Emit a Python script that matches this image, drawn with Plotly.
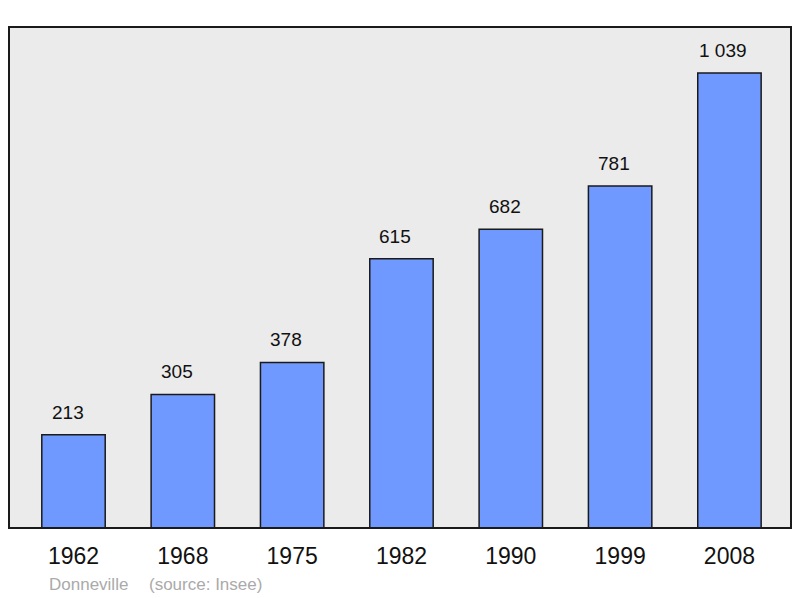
import plotly.graph_objects as go

years = ["1962", "1968", "1975", "1982", "1990", "1999", "2008"]
population = [213, 305, 378, 615, 682, 781, 1039]
value_labels = ["213", "305", "378", "615", "682", "781", "1 039"]
place = "Donneville"
source = "(source: Insee)"

# page has an 8px body margin; compensate
W, H = 792, 590
L, R, T, B = 1, 9, 19, 70
pw = W - L - R

xpos = list(range(len(years)))

fig = go.Figure()
fig.add_trace(go.Bar(
    x=xpos, y=population, width=0.58,
    marker=dict(color="#7099ff", line=dict(color="#1a1a1a", width=1.5)),
    hoverinfo="skip",
))

for xi, v, t in zip(xpos, population, value_labels):
    fig.add_annotation(x=xi, y=v, text=t, showarrow=False, yanchor="bottom",
                       yshift=10, xshift=-6, font=dict(size=19, color="#111111"))

fig.add_annotation(xref="paper", yref="paper", x=(47 - 9) / pw, y=0, yshift=-56,
                   xanchor="left", yanchor="middle", text=place, showarrow=False,
                   font=dict(size=17, color="#aaaaaa"))
fig.add_annotation(xref="paper", yref="paper", x=(147 - 9) / pw, y=0, yshift=-56,
                   xanchor="left", yanchor="middle", text=source, showarrow=False,
                   font=dict(size=17, color="#aaaaaa"))

fig.add_shape(type="rect", xref="paper", yref="paper", x0=0, x1=1, y0=0, y1=1,
              line=dict(color="#1a1a1a", width=2), layer="above")

fig.update_layout(
    width=W, height=H,
    margin=dict(l=L, r=R, t=T, b=B, pad=0),
    paper_bgcolor="white", plot_bgcolor="#ebebeb",
    font=dict(family="Liberation Sans, Arial, sans-serif", color="#111111"),
    showlegend=False,
    xaxis=dict(range=[-0.59, 6.563], tickmode="array", tickvals=xpos, ticktext=years,
               ticks="outside", ticklen=7, tickcolor="rgba(0,0,0,0)",
               tickfont=dict(size=23), showgrid=False, zeroline=False, fixedrange=True),
    yaxis=dict(range=[0, 1144], showticklabels=False, showgrid=False, zeroline=False,
               ticks="", fixedrange=True),
)

fig.write_html("out.html")
